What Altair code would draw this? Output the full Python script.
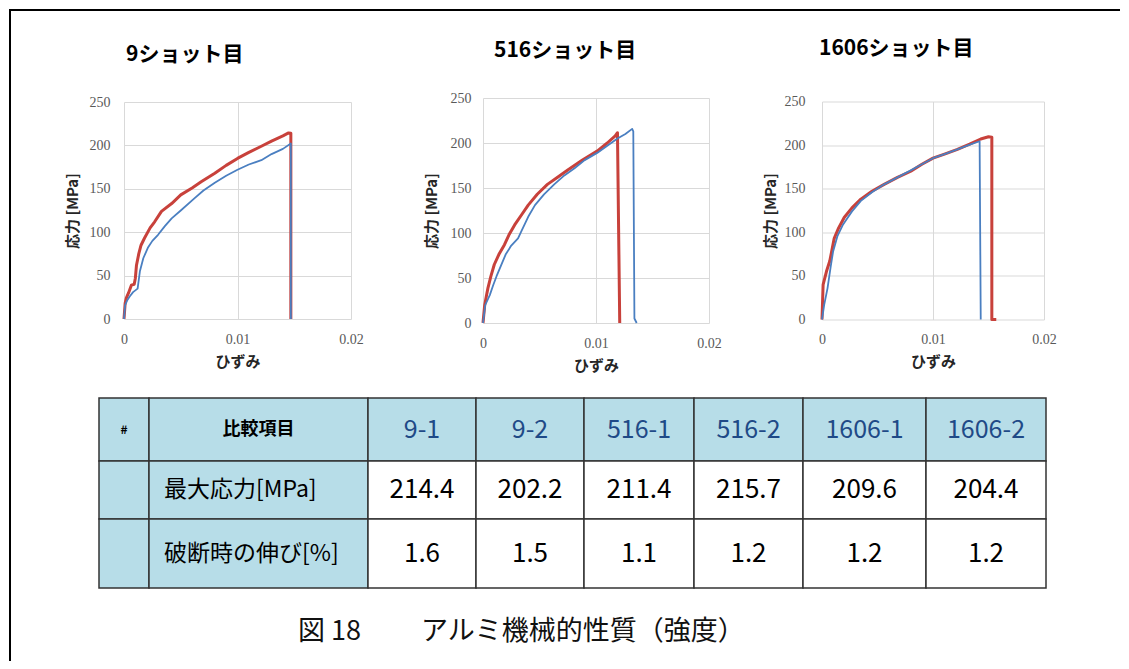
import altair as alt
import pandas as pd

# ---------------- curve data (strain [-], stress [MPa]) ----------------
s9_1_strain = [0, 0.0001, 0.0002, 0.0004, 0.00065, 0.0009, 0.001, 0.0011, 0.0013, 0.0015, 0.0018, 0.0023, 0.0027,
               0.0033, 0.0042, 0.005, 0.006, 0.0068, 0.008, 0.009, 0.01, 0.011, 0.0121, 0.013, 0.014, 0.0145, 0.0147, 0.0147]
s9_1_stress = [0, 18, 24, 30, 39, 40, 47, 62, 75, 85, 93, 105, 112,
               124, 133, 143, 151, 158, 168, 177, 185, 192, 199, 205, 211, 214.4, 214, 0]
s9_2_strain = [0, 0.0001, 0.0003, 0.0005, 0.0008, 0.0012, 0.0014, 0.0017, 0.0021, 0.0025, 0.003, 0.0036, 0.0042,
               0.005, 0.0062, 0.007, 0.008, 0.009, 0.01, 0.011, 0.0121, 0.013, 0.014, 0.0147, 0.0147]
s9_2_stress = [0, 16, 22, 26, 31, 35, 55, 70, 82, 90, 97, 107, 116,
               125, 139, 148, 157, 165, 172, 178, 183, 190, 196, 202.2, 0]

s516_1_strain = [0, 0.00015, 0.0003, 0.00044, 0.0007, 0.001, 0.0014, 0.0019, 0.0023, 0.0028, 0.0034, 0.004, 0.0048,
                 0.0057, 0.0066, 0.0075, 0.0088, 0.0101, 0.011, 0.0117, 0.0119, 0.0121]
s516_1_stress = [0, 20, 30, 39, 52, 65, 76, 87, 98, 109, 120, 131, 143,
                 154, 162, 170, 181, 191, 200, 208, 211.4, 0]
s516_2_strain = [0, 0.0002, 0.0006, 0.0009, 0.0012, 0.0016, 0.002, 0.0025, 0.0031, 0.0034, 0.004, 0.0046, 0.0054,
                 0.0063, 0.0072, 0.0081, 0.009, 0.0101, 0.011, 0.0119, 0.0126, 0.0132, 0.0133, 0.0134, 0.0136]
s516_2_stress = [0, 20, 31, 42, 52, 64, 76, 86, 94, 102, 118, 131, 143,
                 154, 164, 172, 181, 189, 197, 205, 210, 215.7, 213, 5, 0]

s1606_1_strain = [0, 0.00005, 0.0001, 0.0004, 0.0007, 0.0011, 0.0015, 0.002, 0.0027, 0.0035, 0.0045, 0.0056,
                  0.0068, 0.008, 0.009, 0.01, 0.0111, 0.0122, 0.0133, 0.0143, 0.015, 0.0153, 0.0153, 0.0157]
s1606_1_stress = [0, 20, 40, 55, 67, 93, 105, 117, 128, 138, 147, 155,
                  163, 170, 178, 185, 190, 195, 201, 207, 209.6, 209, 0, 0]
s1606_2_strain = [0, 0.0002, 0.0005, 0.0008, 0.001, 0.0014, 0.0019, 0.0027, 0.0035, 0.0045, 0.0056, 0.0068,
                  0.008, 0.009, 0.01, 0.0111, 0.0122, 0.0132, 0.0142, 0.0143]
s1606_2_stress = [0, 17, 36, 62, 78, 96, 109, 124, 136, 146, 155, 163,
                  171, 178, 185, 190, 195, 200, 204.4, 0]

chart_titles = ["9ショット目", "516ショット目", "1606ショット目"]
x_ticks = [0, 0.01, 0.02]
y_ticks = [0, 50, 100, 150, 200, 250]

# ---------------- table data ----------------
table_samples = ["9-1", "9-2", "516-1", "516-2", "1606-1", "1606-2"]
max_stress = [214.4, 202.2, 211.4, 215.7, 209.6, 204.4]
elongation = [1.6, 1.5, 1.1, 1.2, 1.2, 1.2]
row_labels = ["最大応力[MPa]", "破断時の伸び[%]"]
header_hash = "#"
header_item = "比較項目"
caption = "図 18　　 アルミ機械的性質（強度）"

# ---------------- styling / layout ----------------
CJK = "Noto Sans CJK JP"
RED = "#c8413b"
BLUE = "#4a7fc1"
LIGHT = "#b7dde8"
col_w = [50, 219, 108, 108, 110, 109, 123, 120]
row_h = [63, 58, 69]


def curve_df(a_x, a_y, b_x, b_y):
    rows = []
    for name, xs_, ys_ in (("a", a_x, a_y), ("b", b_x, b_y)):
        for i, (xv, yv) in enumerate(zip(xs_, ys_)):
            rows.append({"strain": xv, "stress": yv, "series": name, "idx": i})
    return pd.DataFrame(rows)


def line_chart(df, title, w, h, title_dx, title_offset, ylab_pad, ytitle_pad):
    x = alt.X("strain:Q", scale=alt.Scale(domain=[0, 0.02], nice=False),
              axis=alt.Axis(values=x_ticks, format="~g", title="ひずみ", grid=True,
                            labelPadding=13, titlePadding=8, labelFlush=False))
    y = alt.Y("stress:Q", scale=alt.Scale(domain=[0, 250], nice=False),
              axis=alt.Axis(values=y_ticks, title="応力 [MPa]", grid=True,
                            labelPadding=ylab_pad, titlePadding=ytitle_pad))
    base = alt.Chart(df)
    red = base.transform_filter(alt.datum.series == "a").mark_line(
        color=RED, strokeWidth=3, strokeJoin="round").encode(x=x, y=y, order="idx:Q")
    blue = base.transform_filter(alt.datum.series == "b").mark_line(
        color=BLUE, strokeWidth=1.8, strokeJoin="round").encode(x=x, y=y, order="idx:Q")
    return alt.layer(red, blue).properties(
        width=w, height=h,
        title=alt.Title(title, anchor="start", frame="group", dx=title_dx, offset=title_offset,
                        font=CJK, fontSize=21, fontWeight="bold", color="black"))


def spacer(w, h):
    return alt.Chart(alt.Data(values=[{"a": 0}])).mark_point(opacity=0).encode(
        x=alt.value(0), y=alt.value(0)).properties(width=w, height=h)


def frame_spacer(w, h):
    # the figure frame: top line and left line
    base = alt.Chart(alt.Data(values=[{"a": 0}]))
    vline = base.mark_rule(color="black", strokeWidth=2).encode(
        x=alt.value(-89), y=alt.value(-89), y2=alt.value(563))
    hline = base.mark_rule(color="black", strokeWidth=2).encode(
        x=alt.value(-90), x2=alt.value(1021), y=alt.value(-88))
    return alt.layer(vline, hline).properties(width=w, height=h)


c1 = line_chart(curve_df(s9_1_strain, s9_1_stress, s9_2_strain, s9_2_stress),
                chart_titles[0], 227, 217, 2, 30, 14, 9)
c2 = line_chart(curve_df(s516_1_strain, s516_1_stress, s516_2_strain, s516_2_stress),
                chart_titles[1], 226, 225, 11, 30, 12, 11)
c3 = line_chart(curve_df(s1606_1_strain, s1606_1_stress, s1606_2_strain, s1606_2_stress),
                chart_titles[2], 222, 218, -3, 36, 17, 6)

row = alt.hconcat(frame_spacer(25, 225), c1, spacer(132, 225), c2, spacer(113, 225), c3,
                  spacing=0, bounds="flush", center=True)

# ---------------- table ----------------
col_edges = [0]
for wv in col_w:
    col_edges.append(col_edges[-1] + wv)
row_edges = [0]
for hv in row_h:
    row_edges.append(row_edges[-1] + hv)
TW, TH = col_edges[-1], row_edges[-1]

rects = []
for r in range(3):
    for c in range(8):
        rects.append({"x0": col_edges[c], "x1": col_edges[c + 1], "y0": row_edges[r], "y1": row_edges[r + 1],
                      "fill": LIGHT if (r == 0 or c < 2) else "white"})
rect_df = pd.DataFrame(rects)


def cx(c):
    return (col_edges[c] + col_edges[c + 1]) / 2


def cy(r):
    return (row_edges[r] + row_edges[r + 1]) / 2


xs = alt.Scale(domain=[0, TW], nice=False, zero=False)
ys = alt.Scale(domain=[0, TH], nice=False, zero=False, reverse=True)

rect_layer = alt.Chart(rect_df).mark_rect(stroke="#333333", strokeWidth=1.5).encode(
    x=alt.X("x0:Q", scale=xs, axis=None), x2="x1:Q",
    y=alt.Y("y0:Q", scale=ys, axis=None), y2="y1:Q",
    fill=alt.Fill("fill:N", scale=None))

hash_df = pd.DataFrame([{"x": cx(0), "y": cy(0), "t": header_hash}])
item_df = pd.DataFrame([{"x": cx(1), "y": cy(0), "t": header_item}])
sample_df = pd.DataFrame([{"x": cx(c + 2), "y": cy(0), "t": s} for c, s in enumerate(table_samples)])
label_df = pd.DataFrame([{"x": col_edges[1] + 15, "y": cy(r + 1), "t": t} for r, t in enumerate(row_labels)])
value_df = pd.DataFrame(
    [{"x": cx(c + 2), "y": cy(1), "v": v} for c, v in enumerate(max_stress)] +
    [{"x": cx(c + 2), "y": cy(2), "v": v} for c, v in enumerate(elongation)])


def text_layer(df, field, **kw):
    enc = dict(x=alt.X("x:Q", scale=xs, axis=None), y=alt.Y("y:Q", scale=ys, axis=None))
    if field == "v":
        enc["text"] = alt.Text("v:Q", format=".1f")
    else:
        enc["text"] = alt.Text("t:N")
    return alt.Chart(df).mark_text(baseline="middle", font=CJK, **kw).encode(**enc)


table = alt.layer(
    rect_layer,
    text_layer(hash_df, "t", fontSize=12, fontWeight="bold", color="black"),
    text_layer(item_df, "t", fontSize=18, fontWeight="bold", color="black"),
    text_layer(sample_df, "t", fontSize=25, color="#1f4a87"),
    text_layer(label_df, "t", fontSize=23, color="black", align="left"),
    text_layer(value_df, "v", fontSize=26, color="black"),
).properties(
    width=TW, height=TH,
    title=alt.Title(caption, orient="bottom", anchor="start", frame="group", dx=199, offset=30,
                    baseline="top", font=CJK, fontSize=27, fontWeight="normal", color="#111111"))

chart = alt.vconcat(row, table, spacing=300, bounds="flush").properties(
    padding=0, background="white").configure_view(stroke=None).configure_axis(
    domain=False, ticks=False, tickSize=0, gridColor="#d9d9d9", gridWidth=1,
    labelFont="Liberation Serif", labelFontSize=14, labelColor="#595959",
    titleFont=CJK, titleFontSize=15, titleFontWeight="bold", titleColor="#262626")

chart.save("out.html", embed_options={"renderer": "svg", "actions": False})
